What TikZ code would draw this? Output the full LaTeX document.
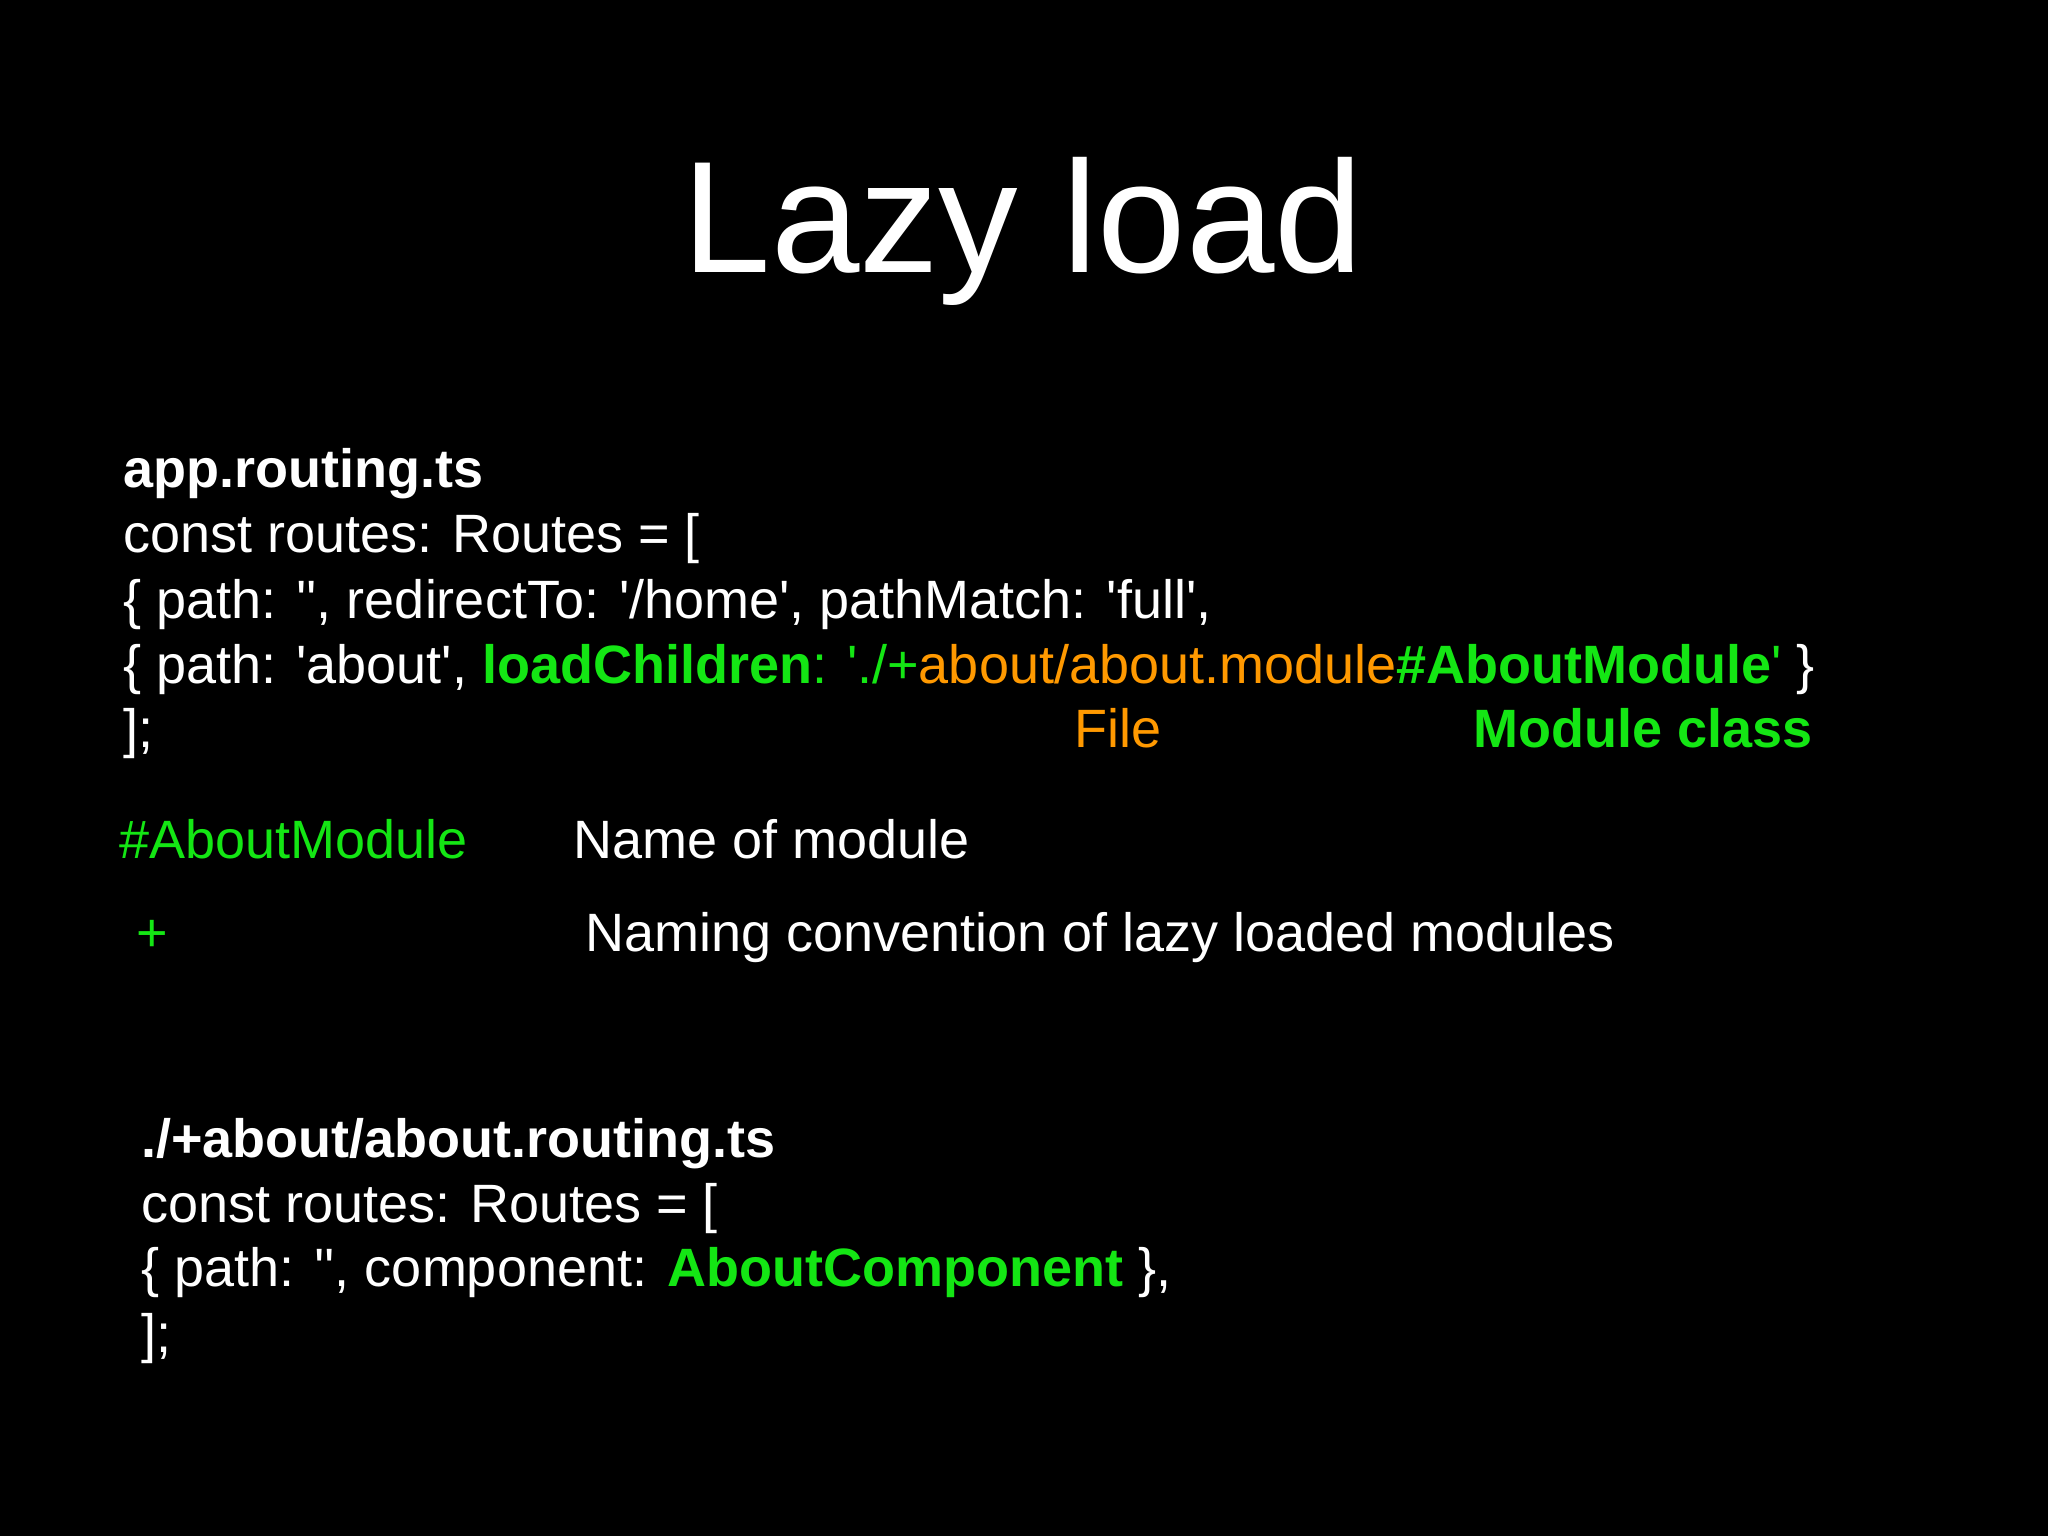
\documentclass[tikz,border=0pt]{standalone}
\usepackage{fontspec}
\setmainfont{Liberation Sans}[Ligatures=TeXOff]
\definecolor{grn}{RGB}{20,230,20}
\definecolor{org}{RGB}{255,153,0}
\begin{document}
\begin{tikzpicture}[x=1pt,y=-1pt,
  txt/.style={anchor=base west,inner sep=0pt,text=white,font=\fontsize{54}{64}\selectfont}]
\fill[black] (0,0) rectangle (2048,1536);
\useasboundingbox (0,0) rectangle (2048,1536);
\node[anchor=base,inner sep=0pt,text=white,font=\fontsize{159}{180}\selectfont] (title) at (1023,272) {Lazy load};
\node[txt] (f1) at (123,487) {\bfseries app.routing.ts};
\node[txt] (l2) at (123,552) {const routes: Routes = [};
\node[txt] (l3) at (123,618) { \{ path: '', redirectTo: '/home', pathMatch: 'full',};
\node[txt] (l4) at (123,683) { \{ path: 'about', \textcolor{grn}{\bfseries loadChildren}\textcolor{grn}{: './+}\textcolor{org}{about/about.module}\textcolor{grn}{\bfseries\#AboutModule}\textcolor{grn}{'} \}};
\node[txt] (l5) at (123,747) {];};
\node[txt,text=org] (file) at (1074,747) {File};
\node[txt,text=grn,font=\fontsize{54}{64}\selectfont\bfseries] (mc) at (1473,747) {Module class};
\node[txt,text=grn] (am) at (119,858) {\#AboutModule};
\node[txt] (nm) at (573,858) {Name of module};
\node[txt,text=grn] (plus) at (136,951) {+};
\node[txt] (nc) at (585,951) {Naming convention of lazy loaded modules};
\node[txt] (f2) at (141,1157) {\bfseries ./+about/about.routing.ts};
\node[txt] (m2) at (141,1222) {const routes: Routes = [};
\node[txt] (m3) at (141,1286) { \{ path: '', component: \textcolor{grn}{\bfseries AboutComponent} \},};
\node[txt] (m4) at (141,1352) { ];};
\end{tikzpicture}
\end{document}
